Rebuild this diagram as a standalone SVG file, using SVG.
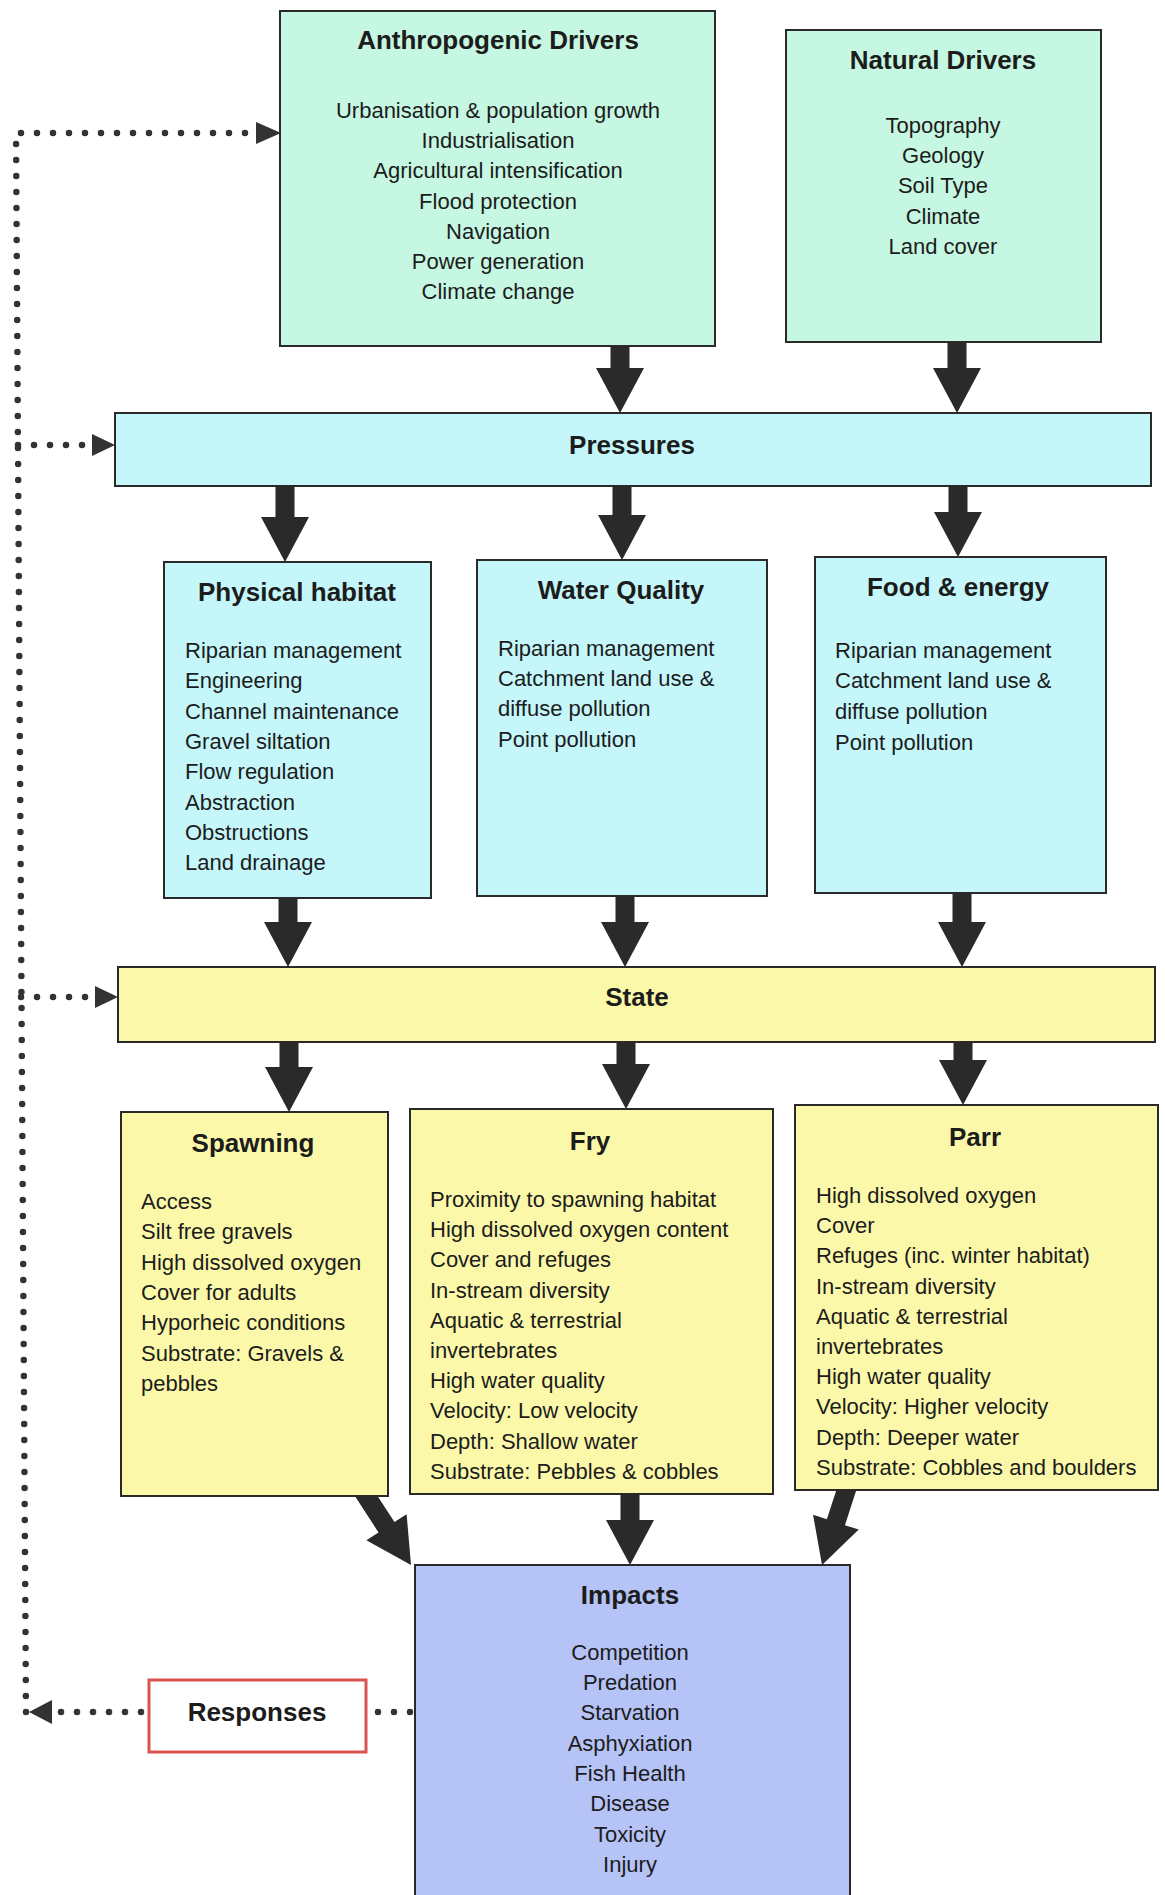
<svg xmlns="http://www.w3.org/2000/svg" width="1165" height="1895" viewBox="0 0 1165 1895">
<style>
text{font-family:"Liberation Sans",Arial,sans-serif;fill:#1c1c1c}
.t{font-size:26px;font-weight:bold;text-anchor:middle}
.b{font-size:22px}
.c{text-anchor:middle}
.box{stroke:#2a2a2a;stroke-width:2}
.drv{fill:#c6f7e2}
.prs{fill:#c4f6fa}
.sta{fill:#fbf9a9}
.imp{fill:#b5c3f6}
.dot{fill:none;stroke:#333;stroke-width:6.5;stroke-linecap:round;stroke-dasharray:0 16}
.ah{fill:#333}
</style>
<defs>
<path id="arr" d="M-9.5,-100 H9.5 V-45 H24 L0,0 L-24,-45 H-9.5 Z" fill="#2a2a2a"/>
</defs>
<rect width="1165" height="1895" fill="#fff"/>
<g id="connectors">
<use href="#arr" x="620" y="413"/>
<use href="#arr" x="957" y="413"/>
<use href="#arr" x="285" y="562"/>
<use href="#arr" x="622" y="560"/>
<use href="#arr" x="958" y="557"/>
<use href="#arr" x="288" y="967"/>
<use href="#arr" x="625" y="967"/>
<use href="#arr" x="962" y="967"/>
<use href="#arr" x="289" y="1112"/>
<use href="#arr" x="626" y="1109"/>
<use href="#arr" x="963" y="1105"/>
<use href="#arr" transform="translate(411,1565) rotate(-33)"/>
<use href="#arr" transform="translate(630,1565)"/>
<use href="#arr" transform="translate(822,1565) rotate(18)"/>
<path class="dot" d="M26,1712 L16,133 L256,133"/>
<polygon class="ah" points="256,122 281,133 256,144"/>
<path class="dot" d="M18,445 H92"/>
<polygon class="ah" points="92,434 115,445 92,456"/>
<path class="dot" d="M21,997 H95"/>
<polygon class="ah" points="95,986 118,997 95,1008"/>
<path class="dot" d="M410,1712 H370"/>
<path class="dot" d="M141,1712 H55"/>
<polygon class="ah" points="29,1712 52,1700 52,1724"/>
</g>
<g id="anthropogenic">
<rect class="box drv" x="280" y="11" width="435" height="335"/>
<text class="t" x="498" y="49">Anthropogenic Drivers</text>
<text class="b c" x="498" y="118">Urbanisation &amp; population growth</text>
<text class="b c" x="498" y="148">Industrialisation</text>
<text class="b c" x="498" y="178">Agricultural intensification</text>
<text class="b c" x="498" y="209">Flood protection</text>
<text class="b c" x="498" y="239">Navigation</text>
<text class="b c" x="498" y="269">Power generation</text>
<text class="b c" x="498" y="299">Climate change</text>
</g>
<g id="natural">
<rect class="box drv" x="786" y="30" width="315" height="312"/>
<text class="t" x="943" y="69">Natural Drivers</text>
<text class="b c" x="943" y="133">Topography</text>
<text class="b c" x="943" y="163">Geology</text>
<text class="b c" x="943" y="193">Soil Type</text>
<text class="b c" x="943" y="224">Climate</text>
<text class="b c" x="943" y="254">Land cover</text>
</g>
<g id="pressures">
<rect class="box prs" x="115" y="413" width="1036" height="73"/>
<text class="t" x="632" y="454">Pressures</text>
</g>
<g id="physical">
<rect class="box prs" x="164" y="562" width="267" height="336"/>
<text class="t" x="297" y="601">Physical habitat</text>
<text class="b" x="185" y="658">Riparian management</text>
<text class="b" x="185" y="688">Engineering</text>
<text class="b" x="185" y="719">Channel maintenance</text>
<text class="b" x="185" y="749">Gravel siltation</text>
<text class="b" x="185" y="779">Flow regulation</text>
<text class="b" x="185" y="810">Abstraction</text>
<text class="b" x="185" y="840">Obstructions</text>
<text class="b" x="185" y="870">Land drainage</text>
</g>
<g id="water">
<rect class="box prs" x="477" y="560" width="290" height="336"/>
<text class="t" x="621" y="599">Water Quality</text>
<text class="b" x="498" y="656">Riparian management</text>
<text class="b" x="498" y="686">Catchment land use &amp;</text>
<text class="b" x="498" y="716">diffuse pollution</text>
<text class="b" x="498" y="747">Point pollution</text>
</g>
<g id="food">
<rect class="box prs" x="815" y="557" width="291" height="336"/>
<text class="t" x="958" y="596">Food &amp; energy</text>
<text class="b" x="835" y="658">Riparian management</text>
<text class="b" x="835" y="688">Catchment land use &amp;</text>
<text class="b" x="835" y="719">diffuse pollution</text>
<text class="b" x="835" y="750">Point pollution</text>
</g>
<g id="state">
<rect class="box sta" x="118" y="967" width="1037" height="75"/>
<text class="t" x="637" y="1006">State</text>
</g>
<g id="spawning">
<rect class="box sta" x="121" y="1112" width="267" height="384"/>
<text class="t" x="253" y="1152">Spawning</text>
<text class="b" x="141" y="1209">Access</text>
<text class="b" x="141" y="1239">Silt free gravels</text>
<text class="b" x="141" y="1270">High dissolved oxygen</text>
<text class="b" x="141" y="1300">Cover for adults</text>
<text class="b" x="141" y="1330">Hyporheic conditions</text>
<text class="b" x="141" y="1361">Substrate: Gravels &amp;</text>
<text class="b" x="141" y="1391">pebbles</text>
</g>
<g id="fry">
<rect class="box sta" x="410" y="1109" width="363" height="385"/>
<text class="t" x="590" y="1150">Fry</text>
<text class="b" x="430" y="1207">Proximity to spawning habitat</text>
<text class="b" x="430" y="1237">High dissolved oxygen content</text>
<text class="b" x="430" y="1267">Cover and refuges</text>
<text class="b" x="430" y="1298">In-stream diversity</text>
<text class="b" x="430" y="1328">Aquatic &amp; terrestrial</text>
<text class="b" x="430" y="1358">invertebrates</text>
<text class="b" x="430" y="1388">High water quality</text>
<text class="b" x="430" y="1418">Velocity: Low velocity</text>
<text class="b" x="430" y="1449">Depth: Shallow water</text>
<text class="b" x="430" y="1479">Substrate: Pebbles &amp; cobbles</text>
</g>
<g id="parr">
<rect class="box sta" x="795" y="1105" width="363" height="385"/>
<text class="t" x="975" y="1146">Parr</text>
<text class="b" x="816" y="1203">High dissolved oxygen</text>
<text class="b" x="816" y="1233">Cover</text>
<text class="b" x="816" y="1263">Refuges (inc. winter habitat)</text>
<text class="b" x="816" y="1294">In-stream diversity</text>
<text class="b" x="816" y="1324">Aquatic &amp; terrestrial</text>
<text class="b" x="816" y="1354">invertebrates</text>
<text class="b" x="816" y="1384">High water quality</text>
<text class="b" x="816" y="1414">Velocity: Higher velocity</text>
<text class="b" x="816" y="1445">Depth: Deeper water</text>
<text class="b" x="816" y="1475">Substrate: Cobbles and boulders</text>
</g>
<g id="impacts">
<rect class="box imp" x="415" y="1565" width="435" height="340"/>
<text class="t" x="630" y="1604">Impacts</text>
<text class="b c" x="630" y="1660">Competition</text>
<text class="b c" x="630" y="1690">Predation</text>
<text class="b c" x="630" y="1720">Starvation</text>
<text class="b c" x="630" y="1751">Asphyxiation</text>
<text class="b c" x="630" y="1781">Fish Health</text>
<text class="b c" x="630" y="1811">Disease</text>
<text class="b c" x="630" y="1842">Toxicity</text>
<text class="b c" x="630" y="1872">Injury</text>
</g>
<g id="responses">
<rect x="149" y="1680" width="217" height="72" fill="#fff" stroke="#d9534f" stroke-width="3"/>
<text class="t" x="257" y="1721">Responses</text>
</g>
</svg>
